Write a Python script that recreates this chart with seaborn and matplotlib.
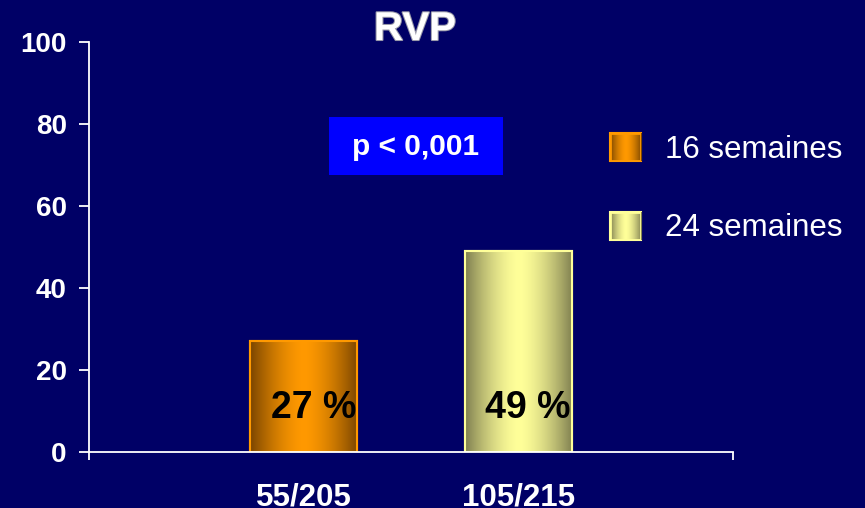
import numpy as np
import pandas as pd
import matplotlib
matplotlib.use('Agg')
import matplotlib.pyplot as plt
import matplotlib.patheffects as pe
from matplotlib.colors import to_rgb
from matplotlib.patches import Patch, Rectangle
import seaborn as sns

# data
durations = ['16 semaines', '24 semaines']
ratios = ['55/205', '105/215']
percents = [27, 49]
pct_labels = ['27 %', '49 %']
title = 'RVP'
p_text = 'p < 0,001'

# colours
BG = '#000066'
BRIGHT = {'16 semaines': '#ff9900', '24 semaines': '#ffff99'}
DARK = {'16 semaines': '#7a4500', '24 semaines': '#7f7f50'}

df = pd.DataFrame({'ratio': ratios, 'pct': percents, 'duree': durations})

sns.set_style('white')
plt.rcParams['font.family'] = ['Liberation Sans', 'DejaVu Sans']

fig = plt.figure(figsize=(8.65, 5.08), dpi=100, facecolor=BG)
ax = fig.add_axes([89/865, (508-452)/508, (733-89)/865, (452-42)/508])
ax.set_facecolor(BG)

sns.barplot(data=df, x='ratio', y='pct', hue='duree', hue_order=durations,
            palette=BRIGHT, dodge=False, width=0.5, ax=ax, legend=False)

ax.set_xlim(-1, 2)
ax.set_ylim(0, 100)


def gradient(name):
    # dark edges, bright centre
    u = np.linspace(0, 1, 200)
    t = np.abs(2 * u - 1) ** 1.6
    c_hi = np.array(to_rgb(BRIGHT[name]))
    c_lo = np.array(to_rgb(DARK[name]))
    return ((1 - t)[:, None] * c_hi + t[:, None] * c_lo)[None, :, :]


for bars, name in zip(ax.containers, durations):
    img = gradient(name)
    for bar in bars:
        bar.set_edgecolor(BRIGHT[name])
        bar.set_linewidth(1.5)
        x0, w, h = bar.get_x(), bar.get_width(), bar.get_height()
        im = ax.imshow(img, extent=[x0, x0 + w, 0, h], aspect='auto', zorder=bar.get_zorder() + 0.1)
        im.set_clip_path(bar)
        ax.add_patch(Rectangle((x0, 0), w, h, fill=False, edgecolor=BRIGHT[name], lw=1.5,
                               zorder=bar.get_zorder() + 0.2))

ax.set_xlim(-1, 2)
ax.set_ylim(0, 100)

# value labels inside bars
for i, lab in enumerate(pct_labels):
    ax.text(i + 0.045, 10.8, lab, ha='center', va='center', fontsize=27,
            fontweight='bold', color='black', zorder=5)

# axes styling
for s in ['top', 'right']:
    ax.spines[s].set_visible(False)
for s in ['left', 'bottom']:
    ax.spines[s].set_color('white')
    ax.spines[s].set_linewidth(1.3)

ax.set_yticks(range(0, 101, 20))
ax.tick_params(axis='y', colors='white', direction='out', length=7, width=1.3,
               labelsize=20, pad=9, left=True)
for lab in ax.get_yticklabels():
    lab.set_fontweight('bold')

ax.set_xticks([0, 1])
ax.set_xticklabels(ratios)
ax.tick_params(axis='x', colors='white', length=0, labelsize=22.5, pad=22)
for lab in ax.get_xticklabels():
    lab.set_fontweight('bold')
ax.set_xticks([-1, 2], minor=True)
ax.tick_params(axis='x', which='minor', direction='out', length=6, width=1.3,
               color='white', bottom=True)
ax.set_xlabel('')
ax.set_ylabel('')

# title
fig.text(415/865, 1 - 29/508, title, ha='center', va='center', fontsize=29,
         fontweight='bold', color='white',
         path_effects=[pe.withStroke(linewidth=1.5, foreground='#9a9aaa')])

# p-value box
ax.add_patch(Rectangle((329/865, 1 - 175/508), 174/865, 58/508, transform=fig.transFigure,
                       facecolor='#0000ff', edgecolor='none', zorder=4))
fig.text(416/865, 1 - 147/508, p_text, ha='center', va='center', fontsize=21.5,
         fontweight='bold', color='white', zorder=6)

# legend
handles = [Patch(facecolor=BRIGHT[d], edgecolor=BRIGHT[d], lw=1.5) for d in durations]
leg = fig.legend(handles, durations, loc='upper left', bbox_to_anchor=(582/865, 1 - 105/508),
                 frameon=False, fontsize=22.5, labelcolor='white', handlelength=1.0,
                 handleheight=1.0, handletextpad=0.75, labelspacing=1.5)

# gradient in legend swatches
fig.canvas.draw()
for h, name in zip(leg.legend_handles, durations):
    bb = h.get_window_extent().transformed(fig.transFigure.inverted())
    lax = fig.add_axes([bb.x0, bb.y0, bb.width, bb.height])
    lax.set_zorder(20)
    lax.imshow(gradient(name), aspect='auto', extent=[0, 1, 0, 1])
    lax.add_patch(Rectangle((0, 0), 1, 1, fill=False, edgecolor=BRIGHT[name], lw=2.0))
    lax.set_xlim(0, 1)
    lax.set_ylim(0, 1)
    lax.axis('off')

fig.savefig('out.png', dpi=100, facecolor=BG)
